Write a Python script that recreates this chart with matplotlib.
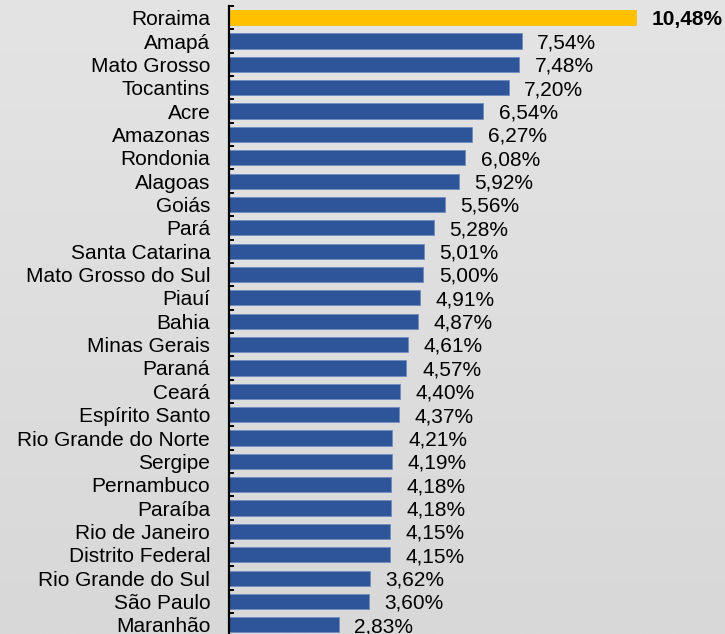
import numpy as np
import matplotlib
matplotlib.use('Agg')
import matplotlib.pyplot as plt

states = ['Roraima', 'Amapá', 'Mato Grosso', 'Tocantins', 'Acre', 'Amazonas',
          'Rondonia', 'Alagoas', 'Goiás', 'Pará', 'Santa Catarina',
          'Mato Grosso do Sul', 'Piauí', 'Bahia', 'Minas Gerais', 'Paraná',
          'Ceará', 'Espírito Santo', 'Rio Grande do Norte', 'Sergipe',
          'Pernambuco', 'Paraíba', 'Rio de Janeiro', 'Distrito Federal',
          'Rio Grande do Sul', 'São Paulo', 'Maranhão']
values = [10.48, 7.54, 7.48, 7.20, 6.54, 6.27, 6.08, 5.92, 5.56, 5.28, 5.01,
          5.00, 4.91, 4.87, 4.61, 4.57, 4.40, 4.37, 4.21, 4.19, 4.18, 4.18,
          4.15, 4.15, 3.62, 3.60, 2.83]
highlight = 'Roraima'

plt.rcParams['font.family'] = ['Liberation Sans', 'DejaVu Sans']

fig = plt.figure(figsize=(7.25, 6.34), dpi=100)

# soft grey background gradient
bg = fig.add_axes([0, 0, 1, 1], zorder=-1)
grad = np.linspace(0, 1, 256).reshape(-1, 1)
bg.imshow(grad, aspect='auto', cmap=matplotlib.colors.LinearSegmentedColormap.from_list(
    'g', ['#E4E4E4', '#D8D8D8']), extent=[0, 1, 0, 1], origin='upper')
bg.axis('off')

ax = fig.add_axes([229 / 725, -2.5 / 634, 466 / 725, 630.5 / 634])
ax.patch.set_alpha(0)

y = np.arange(len(states))
colors = ['#FFC000' if s == highlight else '#2E5597' for s in states]
edges = ['#FFC000' if s == highlight else '#6F8CC0' for s in states]
ax.barh(y, values, height=0.65, color=colors, edgecolor=edges, linewidth=0.6)

for yi, v, s in zip(y, values, states):
    txt = f'{v:.2f}%'.replace('.', ',')
    ax.text(v + 0.4, yi + 0.08, txt, va='center', ha='left', fontsize=15,
            fontweight='bold' if s == highlight else 'normal')

ax.set_xlim(0, 12)
ax.set_ylim(len(states) - 0.5, -0.5)

for sp in ['top', 'right', 'bottom']:
    ax.spines[sp].set_visible(False)
ax.spines['left'].set_linewidth(1.6)
ax.set_xticks([])

ax.set_yticks(np.arange(len(states) + 1) - 0.5)
ax.set_yticklabels([])
ax.tick_params(axis='y', which='major', direction='in', length=3.6, width=1.4)
ax.set_yticks(y, minor=True)
ax.set_yticklabels(states, minor=True, fontsize=15)
ax.tick_params(axis='y', which='minor', length=0, pad=13.5)
for lbl in ax.get_yticklabels(minor=True):
    lbl.set_y(lbl.get_position()[1])

fig.savefig('out.png', dpi=100)
